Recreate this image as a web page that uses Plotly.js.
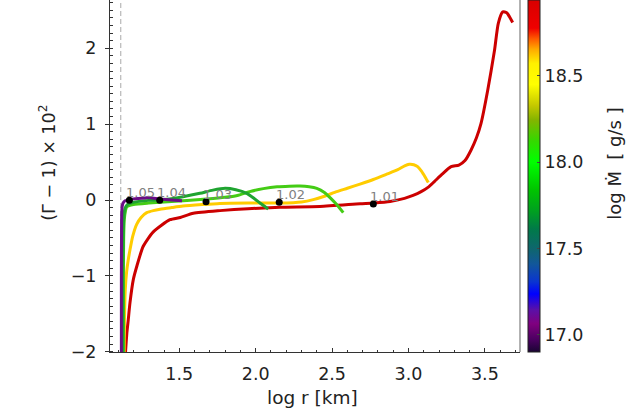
<!DOCTYPE html>
<html>
<head>
<meta charset="utf-8">
<script src="https://cdn.plot.ly/plotly-3.0.1.min.js"></script>
<style>html,body{margin:0;padding:0;background:#fff;}#chart{width:628px;height:411px;}</style>
</head>
<body>
<div id="chart"></div>
<script>
// ---- data ----
const innerRadius = 1.117;

const purpleX = [1.121, 1.121, 1.122, 1.123, 1.126, 1.132, 1.145, 1.165, 1.2, 1.28, 1.31, 1.37, 1.45, 1.518];
const purpleY = [-2.05, -1.0, -0.4, -0.2, -0.09, -0.04, -0.01, 0.0, 0.015, 0.028, 0.03, 0.015, 0.0, -0.01];

const darkGreenX = [1.131, 1.131, 1.133, 1.137, 1.145, 1.16, 1.2, 1.3, 1.418, 1.524, 1.635, 1.72, 1.80, 1.87, 1.941, 1.99, 2.028, 2.082];
const darkGreenY = [-2.05, -1.0, -0.45, -0.22, -0.11, -0.06, -0.03, -0.005, 0.009, 0.043, 0.088, 0.13, 0.154, 0.135, 0.088, 0.02, -0.04, -0.12];

const brightGreenX = [1.134, 1.134, 1.136, 1.14, 1.148, 1.156, 1.2, 1.3, 1.45, 1.55, 1.68, 1.8, 1.88, 1.96, 2.05, 2.14, 2.22, 2.29, 2.35, 2.40, 2.45, 2.49, 2.53, 2.573];
const brightGreenY = [-2.05, -1.0, -0.5, -0.26, -0.14, -0.09, -0.06, -0.04, -0.02, -0.005, 0.013, 0.035, 0.06, 0.11, 0.15, 0.175, 0.183, 0.184, 0.175, 0.154, 0.1, 0.025, -0.06, -0.167];

const yellowX = [1.139, 1.141, 1.146, 1.155, 1.165, 1.177, 1.195, 1.221, 1.25, 1.287, 1.33, 1.374, 1.45, 1.524, 1.65, 1.766, 1.95, 2.159, 2.3, 2.377, 2.45, 2.53, 2.6, 2.683, 2.77, 2.857, 2.93, 2.975, 3.005, 3.035, 3.06, 3.085, 3.11, 3.13];
const yellowY = [-2.05, -1.6, -1.2, -0.95, -0.8, -0.66, -0.48, -0.32, -0.23, -0.167, -0.14, -0.122, -0.1, -0.08, -0.06, -0.045, -0.04, -0.04, -0.025, 0.005, 0.05, 0.11, 0.155, 0.21, 0.27, 0.34, 0.4, 0.45, 0.47, 0.465, 0.44, 0.38, 0.3, 0.23];

const redX = [1.147, 1.149, 1.157, 1.166, 1.177, 1.199, 1.221, 1.264, 1.33, 1.439, 1.507, 1.592, 1.766, 1.95, 2.159, 2.42, 2.683, 2.775, 2.88, 2.974, 3.03, 3.083, 3.13, 3.168, 3.22, 3.279, 3.33, 3.37, 3.41, 3.445, 3.475, 3.519, 3.563, 3.588, 3.617, 3.643, 3.66, 3.682];
const redY = [-2.05, -1.975, -1.75, -1.58, -1.36, -1.05, -0.88, -0.61, -0.42, -0.26, -0.23, -0.175, -0.14, -0.115, -0.095, -0.085, -0.05, -0.04, -0.02, 0.022, 0.06, 0.11, 0.17, 0.24, 0.34, 0.44, 0.46, 0.52, 0.66, 0.82, 1.01, 1.45, 1.97, 2.33, 2.48, 2.47, 2.42, 2.34];

const markX = [1.173, 1.372, 1.675, 2.154, 2.77];
const markY = [-0.004, -0.004, -0.022, -0.03, -0.053];
const markLabels = ['1.05', '1.04', '1.03', '1.02', '1.01'];

const cbTickVals = [17.0, 17.5, 18.0, 18.5];
const cbTickText = ['17.0', '17.5', '18.0', '18.5'];
const cbMin = 16.9, cbMax = 18.94;

// ---- styling ----
const FONT = 'DejaVu Sans';
const colorscale = [
  [0, '#1a0533'], [0.035, '#4a0060'], [0.08, '#80007f'], [0.12, '#5a10a8'],
  [0.165, '#0000ff'], [0.2, '#0a35d0'], [0.25, '#12579a'], [0.29, '#0f6570'],
  [0.35, '#007a48'], [0.40, '#00a020'], [0.46, '#00c400'], [0.54, '#00ff00'],
  [0.60, '#35d800'], [0.66, '#85b400'], [0.70, '#c4c800'], [0.76, '#ffff00'],
  [0.82, '#fff000'], [0.86, '#ffaa00'], [0.89, '#ff5a00'], [0.92, '#f00000'],
  [1, '#d80000']
];

function line(x, y, color) {
  return {type: 'scatter', mode: 'lines', x: x, y: y, hoverinfo: 'skip', showlegend: false,
          line: {color: color, width: 3, shape: 'spline', smoothing: 0.6}};
}

const traces = [
  line(redX, redY, '#cc0000'),
  line(yellowX, yellowY, '#ffcc00'),
  line(brightGreenX, brightGreenY, '#44cc15'),
  line(darkGreenX, darkGreenY, '#1fa430'),
  line(purpleX, purpleY, '#6a0d85'),
  {type: 'scatter', mode: 'markers', x: markX, y: markY, showlegend: false, hoverinfo: 'skip',
   marker: {color: '#000', size: 7}},
  {type: 'scatter', mode: 'markers', x: [null], y: [null], showlegend: false, hoverinfo: 'skip',
   marker: {color: [17], cmin: cbMin, cmax: cbMax, colorscale: colorscale, showscale: true,
     colorbar: {x: 1.0183, xanchor: 'left', xpad: 0, y: 0, yanchor: 'bottom', ypad: 0,
       len: 1, lenmode: 'fraction', thickness: 11.5, outlinewidth: 1, outlinecolor: '#222',
       tickmode: 'array', tickvals: cbTickVals, ticktext: cbTickText, tickprefix: '\u2005',
       ticks: 'inside', ticklen: 3, tickcolor: '#444',
       tickfont: {family: FONT, size: 17.5, color: '#222'}}}}
];

const annotations = markLabels.map((t, i) => ({
  x: markX[i], y: markY[i], xref: 'x', yref: 'y', text: t, showarrow: false,
  xanchor: 'left', yanchor: 'bottom', xshift: -5, yshift: -2,
  font: {family: FONT, size: 13, color: '#808080'}
}));
annotations.push(
  {xref: 'paper', yref: 'paper', x: -0.1537, y: 0.5376, text: '(Γ − 1) × 10<sup>2</sup>',
   textangle: -90, showarrow: false, xanchor: 'center', yanchor: 'middle',
   font: {family: FONT, size: 17.5, color: '#222'}},
  {xref: 'paper', yref: 'paper', x: 0.495, y: -0.129, text: 'log r [km]',
   showarrow: false, xanchor: 'center', yanchor: 'middle',
   font: {family: FONT, size: 18.5, color: '#222'}},
  {xref: 'paper', yref: 'paper', x: 1.2317, y: 0.5376, text: 'log Ṁ\u00a0\u00a0[ g/s ]',
   textangle: -90, showarrow: false, xanchor: 'center', yanchor: 'middle',
   font: {family: FONT, size: 18, color: '#222'}}
);

const layout = {
  width: 628, height: 411,
  margin: {l: 110, r: 108, t: 0, b: 58.5, pad: 0, autoexpand: false},
  paper_bgcolor: '#fff', plot_bgcolor: '#fff',
  font: {family: FONT, color: '#222'},
  xaxis: {range: [1.0465, 3.73], dtick: 0.5, tick0: 0, tickformat: '.1f',
    ticks: 'inside', ticklen: 4, tickcolor: '#333', showline: true, linecolor: '#333', linewidth: 1,
    showgrid: false, zeroline: false, ticklabelstandoff: 6,
    minor: {dtick: 0.1, tick0: 0, ticks: 'inside', ticklen: 2, tickcolor: '#333'},
    tickfont: {family: FONT, size: 17.5, color: '#222'}},
  yaxis: {range: [-2.004, 2.637], dtick: 1, tick0: 0,
    ticks: 'outside', ticklen: 4, tickcolor: '#333', showline: true, linecolor: '#333', linewidth: 1,
    showgrid: false, zeroline: false, ticklabelstandoff: 5,
    minor: {dtick: 0.1, tick0: 0, ticks: 'inside', ticklen: 2.5, tickcolor: '#333'},
    tickfont: {family: FONT, size: 17.5, color: '#222'}},
  shapes: [
    {type: 'line', xref: 'x', yref: 'paper', x0: innerRadius, x1: innerRadius, y0: 0, y1: 1,
     line: {color: '#aaa', width: 1, dash: '5px,3px'}, layer: 'below'},
    {type: 'line', xref: 'paper', yref: 'paper', x0: 1, x1: 1, y0: 0, y1: 1,
     line: {color: '#999', width: 1.5}}
  ],
  annotations: annotations
};

Plotly.newPlot('chart', traces, layout, {staticPlot: true, displayModeBar: false});
</script>
</body>
</html>
